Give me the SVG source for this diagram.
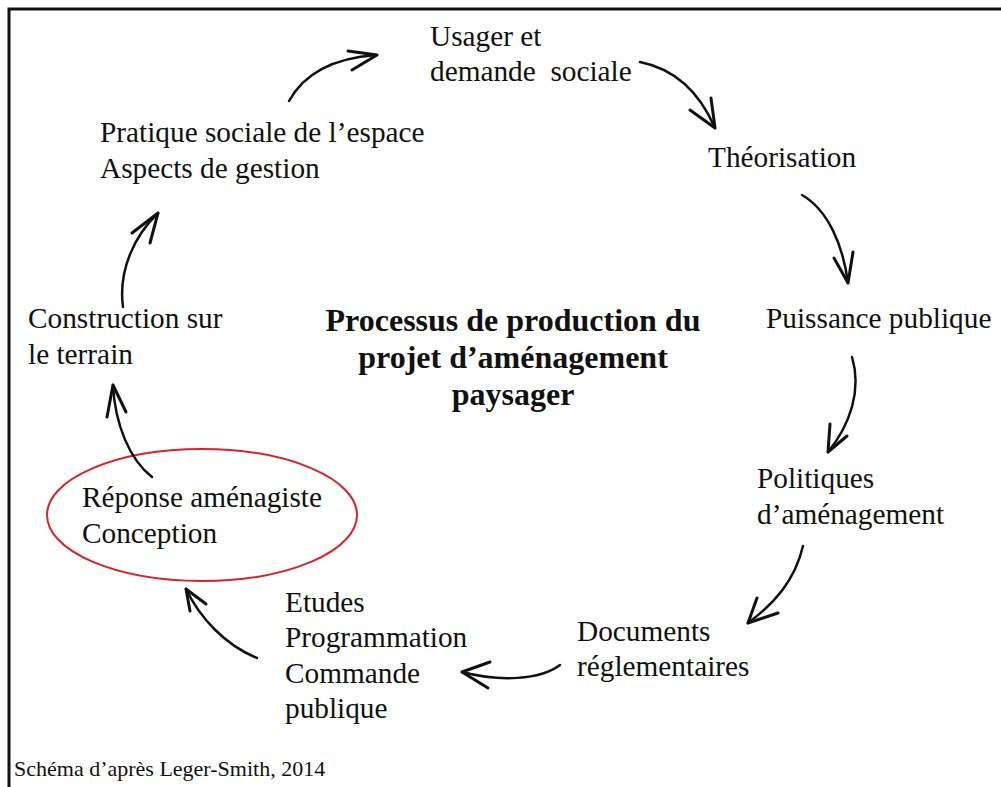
<svg xmlns="http://www.w3.org/2000/svg" width="1001" height="787" viewBox="0 0 1001 787">
<style>
text{font-family:"Liberation Serif","Times New Roman",serif;fill:#111;}
.n{font-size:29.3px;white-space:pre;}
.t{font-size:32px;font-weight:bold;text-anchor:middle;}
.s{font-size:22px;}
.c path{fill:none;stroke:#111;stroke-width:2.5;stroke-linecap:round;stroke-linejoin:round;}
.c path.h{stroke-width:3;}
</style>
<rect x="0" y="0" width="1001" height="787" fill="#fff"/>
<path d="M9 787 V9 H1001" fill="none" stroke="#111" stroke-width="3"/>
<g id="usager"><text class="n" x="430" y="46">Usager et</text><text class="n" x="430" y="81" xml:space="preserve">demande  sociale</text></g>
<g id="theorisation"><text class="n" x="708" y="167">Théorisation</text></g>
<g id="puissance"><text class="n" x="766" y="328">Puissance publique</text></g>
<g id="politiques"><text class="n" x="757" y="488">Politiques</text><text class="n" x="757" y="524">d’aménagement</text></g>
<g id="documents"><text class="n" x="577" y="641">Documents</text><text class="n" x="577" y="676">réglementaires</text></g>
<g id="etudes"><text class="n" x="285" y="612">Etudes</text><text class="n" x="285" y="647">Programmation</text><text class="n" x="285" y="683">Commande</text><text class="n" x="285" y="718">publique</text></g>
<g id="reponse"><ellipse cx="202" cy="515" rx="155" ry="66" fill="none" stroke="#d8232a" stroke-width="2"/><text class="n" x="82" y="507">Réponse aménagiste</text><text class="n" x="82" y="543">Conception</text></g>
<g id="construction"><text class="n" x="28" y="328">Construction sur</text><text class="n" x="28" y="364">le terrain</text></g>
<g id="pratique"><text class="n" x="100" y="142">Pratique sociale de l’espace</text><text class="n" x="100" y="178">Aspects de gestion</text></g>
<g id="title"><text class="t" x="513" y="331">Processus de production du</text><text class="t" x="513" y="368">projet d’aménagement</text><text class="t" x="513" y="405">paysager</text></g>
<g id="source"><text class="s" x="14" y="776">Schéma d’après Leger-Smith, 2014</text></g>
<g id="connectors" class="c">
<path d="M289 101 C305 72 335 58 376 55"/><path class="h" d="M348 51 L377 55 L352 70"/>
<path d="M640 62 C680 70 702 98 715 128"/><path class="h" d="M690 110 L715 128 L711 98"/>
<path d="M802 195 C828 210 843 245 848 283"/><path class="h" d="M834 258 L848 283 L853 252"/>
<path d="M852 357 C862 390 850 425 828 452"/><path class="h" d="M830 424 L828 452 L847 436"/>
<path d="M803 546 C795 580 775 603 748 623"/><path class="h" d="M757 598 L748 623 L778 613"/>
<path d="M560 665 C540 680 500 682 462 672"/><path class="h" d="M490 662 L462 672 L488 688"/>
<path d="M257 658 C225 645 200 618 186 589"/><path class="h" d="M190 611 L186 589 L206 604"/>
<path d="M152 477 C130 460 115 425 113 385"/><path class="h" d="M107 417 L113 385 L126 412"/>
<path d="M123 307 C118 270 135 235 158 213"/><path class="h" d="M132 233 L158 213 L150 243"/>
</g>
</svg>
